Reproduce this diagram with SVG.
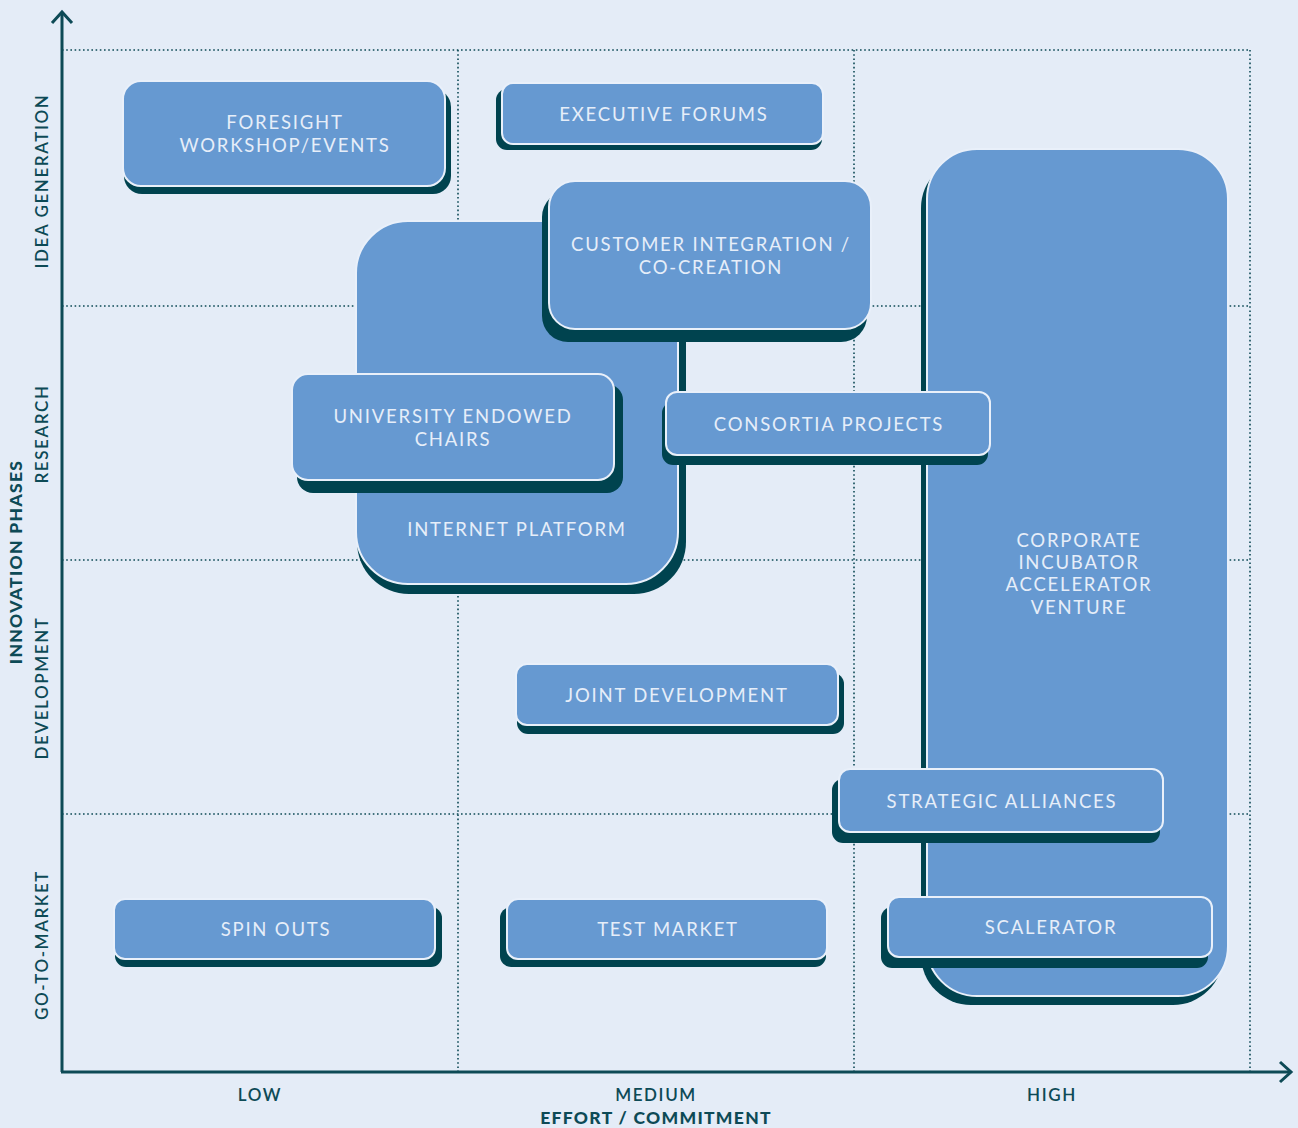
<svg xmlns="http://www.w3.org/2000/svg" width="1298" height="1128" viewBox="0 0 1298 1128">
<style>
.bg{fill:#e4ecf7}
.grid{stroke:#0d4a56;stroke-width:1.6;stroke-dasharray:1.6 2.6;fill:none}
.axis{stroke:#0d4a56;stroke-width:3;fill:none}
.sh{fill:#00434f}
.box{fill:#6699d1;stroke:#e9f0fa;stroke-width:2}
.t{font-family:"Lato","Noto Sans",sans-serif;font-size:18.5px;fill:#e6eef9;text-anchor:middle;letter-spacing:1.8px}
.ax{font-family:"Lato","Noto Sans",sans-serif;font-size:17px;fill:#0d4a56;text-anchor:middle;letter-spacing:1.6px;font-weight:600}
.axb{font-family:"Lato","Noto Sans",sans-serif;font-size:17.5px;fill:#0d4a56;text-anchor:middle;font-weight:900;letter-spacing:1.3px}
</style>
<rect class="bg" x="0" y="0" width="1298" height="1128"/>
<g id="grid">
<line class="grid" x1="62" y1="50" x2="1250" y2="50"/>
<line class="grid" x1="62" y1="306" x2="1250" y2="306"/>
<line class="grid" x1="62" y1="560" x2="1250" y2="560"/>
<line class="grid" x1="62" y1="814" x2="1250" y2="814"/>
<line class="grid" x1="458" y1="50" x2="458" y2="1072"/>
<line class="grid" x1="854" y1="50" x2="854" y2="1072"/>
<line class="grid" x1="1250" y1="50" x2="1250" y2="1072"/>
</g>
<g id="axes">
<line class="axis" x1="62" y1="12" x2="62" y2="1072"/>
<line class="axis" x1="61" y1="1072" x2="1290" y2="1072"/>
<polyline class="axis" stroke-width="2.5" points="52,23 62,12 72,23"/>
<polyline class="axis" stroke-width="2.5" points="1280,1062 1291,1072 1280,1082"/>
<text class="ax" transform="translate(48,181) rotate(-90)">IDEA GENERATION</text>
<text class="ax" transform="translate(48,434) rotate(-90)">RESEARCH</text>
<text class="ax" transform="translate(48,688) rotate(-90)">DEVELOPMENT</text>
<text class="ax" transform="translate(48,945) rotate(-90)">GO-TO-MARKET</text>
<text class="axb" transform="translate(22,562) rotate(-90)">INNOVATION PHASES</text>
<text class="ax" x="260" y="1101">LOW</text>
<text class="ax" x="656" y="1101">MEDIUM</text>
<text class="ax" x="1052" y="1101">HIGH</text>
<text class="axb" x="656" y="1124">EFFORT / COMMITMENT</text>
</g>
<g id="connectors"></g>
<g id="foresight">
<rect class="sh" x="124" y="89" width="327" height="105" rx="18"/>
<rect class="box" x="123" y="81" width="322" height="105" rx="18"/>
<text class="t" x="285" y="129">FORESIGHT</text>
<text class="t" x="285" y="152">WORKSHOP/EVENTS</text>
</g>
<g id="executive-forums">
<rect class="sh" x="496" y="89" width="326" height="61" rx="11"/>
<rect class="box" x="502" y="83" width="321" height="61" rx="11"/>
<text class="t" x="664" y="121">EXECUTIVE FORUMS</text>
</g>
<g id="internet-platform">
<rect class="sh" x="357" y="231" width="329" height="363" rx="52"/>
<rect class="box" x="356" y="221" width="322" height="363" rx="52"/>
<text class="t" x="517" y="536">INTERNET PLATFORM</text>
</g>
<g id="university-endowed-chairs">
<rect class="sh" x="297" y="384" width="326" height="109" rx="16"/>
<rect class="box" x="292" y="374" width="322" height="106" rx="16"/>
<text class="t" x="453" y="423">UNIVERSITY ENDOWED</text>
<text class="t" x="453" y="446">CHAIRS</text>
</g>
<g id="customer-integration">
<rect class="sh" x="542" y="191" width="325" height="151" rx="26"/>
<rect class="box" x="549" y="181" width="322" height="148" rx="26"/>
<text class="t" x="711" y="251">CUSTOMER INTEGRATION /</text>
<text class="t" x="711" y="274">CO-CREATION</text>
</g>
<g id="corporate-incubator">
<rect class="sh" x="921" y="158" width="302" height="847" rx="50"/>
<rect class="box" x="927" y="149" width="301" height="847" rx="50"/>
<text class="t" x="1079" y="547">CORPORATE</text>
<text class="t" x="1079" y="569">INCUBATOR</text>
<text class="t" x="1079" y="591">ACCELERATOR</text>
<text class="t" x="1079" y="614">VENTURE</text>
</g>
<g id="consortia-projects">
<rect class="sh" x="662" y="402" width="326" height="63" rx="11"/>
<rect class="box" x="666" y="392" width="324" height="63" rx="11"/>
<text class="t" x="829" y="431">CONSORTIA PROJECTS</text>
</g>
<g id="joint-development">
<rect class="sh" x="517" y="673" width="327" height="61" rx="11"/>
<rect class="box" x="516" y="664" width="322" height="61" rx="11"/>
<text class="t" x="677" y="702">JOINT DEVELOPMENT</text>
</g>
<g id="strategic-alliances">
<rect class="sh" x="832" y="779" width="328" height="64" rx="11"/>
<rect class="box" x="839" y="769" width="324" height="63" rx="11"/>
<text class="t" x="1002" y="808">STRATEGIC ALLIANCES</text>
</g>
<g id="scalerator">
<rect class="sh" x="881" y="907" width="327" height="61" rx="11"/>
<rect class="box" x="888" y="897" width="324" height="60" rx="11"/>
<text class="t" x="1051" y="934">SCALERATOR</text>
</g>
<g id="spin-outs">
<rect class="sh" x="115" y="907" width="327" height="60" rx="11"/>
<rect class="box" x="114" y="899" width="321" height="60" rx="11"/>
<text class="t" x="276" y="936">SPIN OUTS</text>
</g>
<g id="test-market">
<rect class="sh" x="500" y="907" width="326" height="60" rx="11"/>
<rect class="box" x="507" y="899" width="320" height="60" rx="11"/>
<text class="t" x="668" y="936">TEST MARKET</text>
</g>
</svg>
